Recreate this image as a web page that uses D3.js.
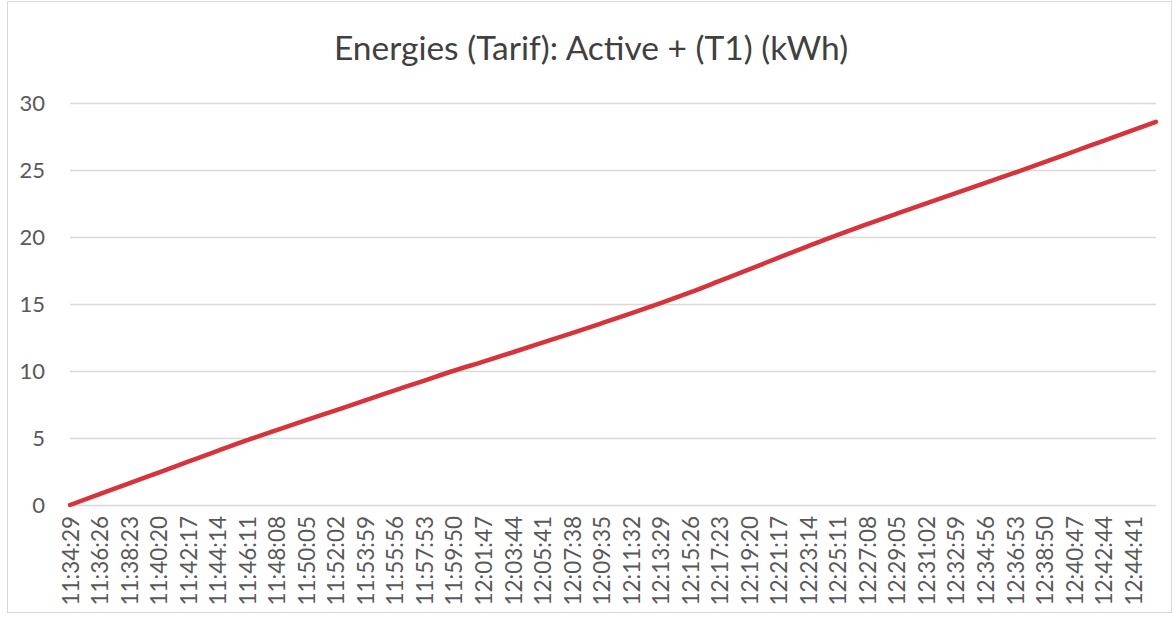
<!DOCTYPE html>
<html>
<head>
<meta charset="utf-8">
<script src="https://cdn.jsdelivr.net/npm/d3@7"></script>
<style>
  html, body { margin: 0; padding: 0; background: #fff; }
  svg { display: block; font-family: Lato, 'Open Sans', sans-serif; }
</style>
</head>
<body>
<div id="chart"></div>
<script>
// Tick labels (one every 1:57)
const tickLabels = [
  '11:34:29', '11:36:26', '11:38:23', '11:40:20', '11:42:17', '11:44:14', '11:46:11',
  '11:48:08', '11:50:05', '11:52:02', '11:53:59', '11:55:56', '11:57:53', '11:59:50',
  '12:01:47', '12:03:44', '12:05:41', '12:07:38', '12:09:35', '12:11:32', '12:13:29',
  '12:15:26', '12:17:23', '12:19:20', '12:21:17', '12:23:14', '12:25:11', '12:27:08',
  '12:29:05', '12:31:02', '12:32:59', '12:34:56', '12:36:53', '12:38:50', '12:40:47',
  '12:42:44', '12:44:41'
]

// Sample times (labels plus the last reading past the final label)
const times = tickLabels.concat(['12:46:12'])

// Active energy T1, kWh
const energy = [
  0.00, 0.81, 1.61, 2.42, 3.23, 4.04, 4.84,
  5.59, 6.33, 7.07, 7.81, 8.55, 9.29, 10.02,
  10.70, 11.40, 12.11, 12.83, 13.56, 14.30, 15.06,
  15.86, 16.72, 17.58, 18.46, 19.32, 20.16, 20.96,
  21.74, 22.51, 23.28, 24.04, 24.80, 25.58, 26.38,
  27.18, 27.98, 28.60
]

const yTicks = [0, 5, 10, 15, 20, 25, 30]

const width = 1175, height = 618
const margin = { top: 103, right: 19, bottom: 113, left: 70 }
const innerW = width - margin.left - margin.right
const innerH = height - margin.top - margin.bottom

const parse = d3.timeParse('%H:%M:%S')
const data = times.map((t, i) => ({ t: parse(t), v: energy[i] }))

const svg = d3.select('#chart').append('svg')
  .attr('width', width)
  .attr('height', height)

// chart frame
svg.append('rect')
  .attr('x', 7.5).attr('y', 1.5)
  .attr('width', 1164).attr('height', 611)
  .attr('fill', '#fff')
  .attr('stroke', '#d9d9d9')

svg.append('text')
  .attr('x', 591)
  .attr('y', 60)
  .attr('text-anchor', 'middle')
  .attr('fill', '#404040')
  .attr('font-size', 33.5)
  .text('Energies (Tarif): Active + (T1) (kWh)')

const g = svg.append('g')
  .attr('transform', `translate(${margin.left},${margin.top})`)

const x = d3.scaleTime()
  .domain(d3.extent(data, d => d.t))
  .range([0, innerW])

const y = d3.scaleLinear()
  .domain([0, 30])
  .range([innerH, 0])

// gridlines + y labels
const yAxis = g.append('g')
  .call(d3.axisLeft(y).tickValues(yTicks).tickSize(-innerW).tickPadding(25))
yAxis.select('.domain').remove()
yAxis.selectAll('.tick line')
  .attr('stroke', '#d9d9d9')
  .attr('stroke-width', 1.5)
yAxis.selectAll('.tick text')
  .attr('fill', '#595959')
  .attr('font-size', 22)
  .attr('font-family', 'Lato, sans-serif')

// x axis labels
const xAxis = g.append('g')
  .attr('transform', `translate(0,${innerH})`)
  .call(d3.axisBottom(x)
    .tickValues(tickLabels.map(parse))
    .tickSize(0)
    .tickFormat(d3.timeFormat('%H:%M:%S')))
xAxis.select('.domain').remove()
xAxis.selectAll('.tick text')
  .attr('transform', 'rotate(-90)')
  .attr('text-anchor', 'end')
  .attr('x', -11)
  .attr('y', 0)
  .attr('dy', '0.36em')
  .attr('fill', '#595959')
  .attr('font-size', 22.5)
  .attr('font-family', 'Lato, sans-serif')

// energy line
g.append('path')
  .datum(data)
  .attr('fill', 'none')
  .attr('stroke', '#d6343b')
  .attr('stroke-width', 4.5)
  .attr('stroke-linecap', 'round')
  .attr('stroke-linejoin', 'round')
  .attr('d', d3.line().curve(d3.curveMonotoneX).x(d => x(d.t)).y(d => y(d.v)))
</script>
</body>
</html>
